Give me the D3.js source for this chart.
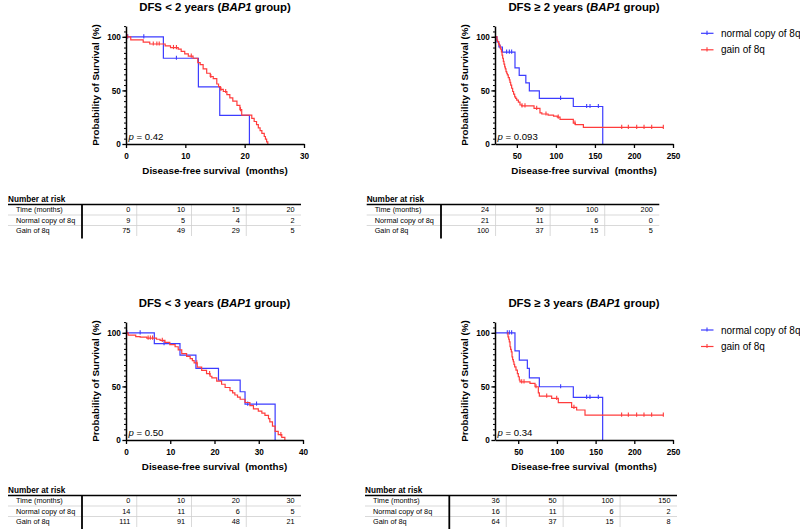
<!DOCTYPE html>
<html><head><meta charset="utf-8">
<script src="https://cdn.jsdelivr.net/npm/d3@7"></script>
<style>body{margin:0;background:#fff} svg{font-family:"Liberation Sans", Arial, sans-serif}</style>
</head><body><svg id="c" width="800" height="529"></svg>
<script>
// ---------------- DATA ----------------
const yTicks = [0, 50, 100];
const tlXTicks = [0, 10, 20, 30];
const trXTicks = [50, 100, 150, 200, 250];
const blXTicks = [0, 10, 20, 30, 40];
const brXTicks = [50, 100, 150, 200, 250];
const seriesNames = ["normal copy of 8q", "gain of 8q"];
const riskRowLabels = ["Time (months)", "Normal copy of 8q", "Gain of 8q"];
const pValues = ["0.42", "0.093", "0.50", "0.34"];

// DFS < 2 years
const tlNormal = [[0,100],[6.3,80],[12.2,53.3],[15.8,26.7],[20.8,0]];
const tlNormalCens = [0.3, 3.0, 8.5];
const tlGain = [[0,100],[0.8,97.2],[2.9,95],[4.0,93.3],[6.6,91.5],[7.5,90],[8.8,88.5],[9.3,86.5],[9.9,84],[10.5,82],[11.3,80],[12.1,76],[12.5,74],[13.0,70],[13.6,66],[14.2,63],[14.7,61],[15.3,56],[15.6,53.5],[15.9,51],[16.4,49],[17.0,46],[17.5,43],[18.0,40],[18.7,36],[19.2,32],[19.5,27],[21.2,24],[21.6,21],[22.0,18],[22.3,15],[22.6,12.5],[22.9,10],[23.3,7],[23.5,4.5],[23.7,2],[23.9,0]];
const tlGainCens = [0.2, 4.6, 5.2, 5.6, 8.0, 8.5, 11.0, 14.3, 16.0, 16.8, 19.3];
const tlRiskTimes = [0, 10, 15, 20];
const tlRiskNormal = [9, 5, 4, 2];
const tlRiskGain = [75, 49, 29, 5];

// DFS >= 2 years
const trNormal = [[22,100],[24.5,95.2],[27,90.5],[31.5,85.7],[47.6,71],[53,64],[61.5,57],[66,49.5],[78.8,42.5],[122.3,35],[160,0]];
const trNormalCens = [28.5, 36.9, 40.4, 43.3, 106, 139.4, 143.7, 154.4];
const trGain = [[22,100],[24.5,97],[25.4,95.5],[26.5,93.5],[27.6,92],[28.5,90],[29.3,88.5],[30.2,86],[31,83],[31.8,80],[32.7,77],[33.5,74.5],[34.4,72],[35.2,70],[36.1,67.6],[37,66],[37.8,64.5],[39,62],[40.4,59.8],[41.2,57.5],[42.1,55],[43.3,52],[44.6,49],[45.8,46.5],[47.2,44],[48.5,42.5],[49.8,41],[51.9,39],[54,36.4],[56.2,35.5],[72,33.3],[79.6,29],[82,28],[90,27],[97,26],[101.8,25],[105.3,23],[122.3,19.5],[125,18],[135.2,15.6],[237.6,15.6]];
const trGainCens = [56.6, 60.4, 75.4, 87.3, 103, 124.4, 184.3, 192.8, 203.5, 212.9, 222.7, 237.6];
const trRiskTimes = [24, 50, 100, 200];
const trRiskNormal = [21, 11, 6, 0];
const trRiskGain = [100, 37, 15, 5];

// DFS < 3 years
const blNormal = [[0,100],[6.4,90],[12.2,79.2],[15.8,66.8],[20.9,55.9],[25.8,45],[26.9,33.5],[33.7,0]];
const blNormalCens = [0.2, 3.2, 8.6, 27.5, 29.5];
const blGain = [[0,100],[0.5,97.8],[2.2,96.5],[3.2,96],[4.7,95],[6.9,94],[7.7,93],[8.8,91],[9.9,89],[11.1,87],[11.8,84],[12.6,80.5],[13.7,78],[14.5,76],[15.0,74],[15.4,72],[16.1,68],[17.1,65],[18.2,62],[19.0,59.5],[19.4,58],[20.5,55],[21.6,52],[22.4,49],[23.5,46],[24.1,44],[24.6,42],[25.2,40],[25.8,38],[26.9,35],[28.0,32],[28.8,29],[29.9,27],[30.7,25],[31.4,23],[32.2,20],[32.5,17],[33.1,13],[33.7,8],[34.4,5],[35.2,2.5],[35.9,0]];
const blGainCens = [5.0, 5.5, 6.0, 8.2, 16.0, 18.9, 35.0];
const blRiskTimes = [0, 10, 20, 30];
const blRiskNormal = [14, 11, 6, 5];
const blRiskGain = [111, 91, 48, 21];

// DFS >= 3 years
const brNormal = [[20,100],[45.8,83.2],[51.4,74.5],[61.8,66.8],[64.4,58],[77.3,49.7],[121.2,39.8],[159.1,0]];
const brNormalCens = [35.9, 38.5, 41.5, 104.8, 138.4, 142.7, 153.5];
const brGain = [[36,100],[36.8,96.3],[37.7,94],[38.5,91.6],[39.4,87],[40.2,84.5],[41.1,82.3],[42,77.6],[42.8,75],[43.7,73],[44.5,70.5],[45.4,68.3],[47.1,65.2],[48.9,62],[50.1,59],[51.4,56],[52.3,54.3],[65.2,52.8],[71.7,49.7],[76,44],[77.3,41],[93.2,38.8],[101.8,34.8],[119,30.4],[125.5,28],[136.3,23.3],[237.5,23.3]];
const brGainCens = [54.5, 57.5, 73, 86.8, 99.7, 122, 183.6, 192.3, 203, 212.5, 222.4, 237.5];
const brRiskTimes = [36, 50, 100, 150];
const brRiskNormal = [16, 11, 6, 2];
const brRiskGain = [64, 37, 15, 8];

// ---------------- DRAW ----------------
const svg = d3.select("#c");
const BLUE = "#3c3cff", RED = "#ff3c3c";

function survAt(series, t) {
  let v = series[0][1];
  for (const d of series) { if (d[0] <= t) v = d[1]; }
  return v;
}

function panel(cfg) {
  const x = d3.scaleLinear().domain(cfg.xDomain).range([cfg.x0, cfg.x1]);
  const y = d3.scaleLinear().domain([0, 110]).range([cfg.yb, cfg.yb - 117.9]);
  const g = svg.append("g");

  // title
  const t = g.append("text").attr("x", (cfg.x0 + cfg.x1) / 2).attr("y", cfg.titleY)
    .attr("text-anchor", "middle").attr("font-weight", "bold").attr("font-size", 11.4);
  t.append("tspan").text(cfg.title);
  t.append("tspan").attr("font-style", "italic").text("BAP1");
  t.append("tspan").text(" group)");

  // curves
  const line = d3.line().x(d => x(d[0])).y(d => y(d[1])).curve(d3.curveStepAfter);
  const curves = [[cfg.normal, cfg.normalCens, BLUE], [cfg.gain, cfg.gainCens, RED]];
  curves.forEach(([s, cens, col]) => {
    g.append("path").datum(s).attr("d", line).attr("fill", "none")
      .attr("stroke", col).attr("stroke-width", 1.2);
    g.selectAll(null).data(cens).enter().append("line")
      .attr("x1", d => x(d)).attr("x2", d => x(d))
      .attr("y1", d => y(survAt(s, d)) - 2.6).attr("y2", d => y(survAt(s, d)) + 1.6)
      .attr("stroke", col).attr("stroke-width", 1.1);
  });

  // y minor ticks
  g.append("g").attr("transform", `translate(${cfg.x0},0)`)
    .call(d3.axisLeft(y).tickValues(d3.range(0, 111, 5)).tickSize(2).tickSizeOuter(0).tickFormat(""))
    .call(a => a.select(".domain").remove())
    .selectAll("line").attr("stroke-width", 1);
  // y axis
  const gy = g.append("g").attr("transform", `translate(${cfg.x0},0)`)
    .call(d3.axisLeft(y).tickValues(yTicks).tickSize(3.6).tickPadding(1.5).tickSizeOuter(0));
  gy.select(".domain").attr("stroke-width", 1.5);
  gy.selectAll(".tick line").attr("stroke-width", 1.3);
  gy.selectAll("text").attr("font-size", 8.2).attr("font-weight", "bold").attr("font-family", null);
  // x axis
  const gx = g.append("g").attr("transform", `translate(0,${cfg.yb})`)
    .call(d3.axisBottom(x).tickValues(cfg.xTicks).tickSize(4).tickPadding(5).tickSizeOuter(0));
  gx.select(".domain").attr("stroke-width", 1.5);
  gx.selectAll(".tick line").attr("stroke-width", 1.3);
  gx.selectAll("text").attr("font-size", 8.2).attr("font-weight", "bold").attr("font-family", null);

  // axis titles
  g.append("text").attr("transform", `translate(${cfg.x0 - 27.5},${(y(0) + y(110)) / 2}) rotate(-90)`)
    .attr("text-anchor", "middle").attr("font-weight", "bold").attr("font-size", 9.8)
    .text("Probability of Survival (%)");
  g.append("text").attr("x", (cfg.x0 + cfg.x1) / 2).attr("y", cfg.yb + 29.5)
    .attr("text-anchor", "middle").attr("font-weight", "bold").attr("font-size", 9.8)
    .style("white-space", "pre").text("Disease-free survival  (months)");

  // p value
  const p = g.append("text").attr("x", cfg.x0 + 2.5).attr("y", y(0) - 4).attr("font-size", 9.6);
  p.append("tspan").attr("font-style", "italic").text("p");
  p.append("tspan").text(" = " + cfg.p);

  // legend
  if (cfg.legendY !== undefined) {
    [BLUE, RED].forEach((col, i) => {
      const ly = cfg.legendY + i * 16.5;
      g.append("line").attr("x1", 701).attr("x2", 713.5).attr("y1", ly).attr("y2", ly)
        .attr("stroke", col).attr("stroke-width", 1.2);
      g.append("line").attr("x1", 707).attr("x2", 707).attr("y1", ly - 2.6).attr("y2", ly + 1.6)
        .attr("stroke", col).attr("stroke-width", 1.1);
      g.append("text").attr("x", 721).attr("y", ly + 3.5).attr("font-size", 10).text(seriesNames[i]);
    });
  }
}

function riskTable(cfg) {
  const g = svg.append("g");
  const rowH = 10.5;
  const colW = (cfg.right - cfg.vline) / 4;
  g.append("text").attr("x", cfg.left).attr("y", cfg.top - 2.6)
    .attr("font-weight", "bold").attr("font-size", 8.2).text("Number at risk");
  // column separators
  [1, 2, 3].forEach(k => {
    g.append("line").attr("x1", cfg.vline + colW * k).attr("x2", cfg.vline + colW * k)
      .attr("y1", cfg.top).attr("y2", cfg.top + rowH * 3)
      .attr("stroke", "#d9d9d9").attr("stroke-width", 1);
  });
  // row separators
  [1, 2].forEach(k => {
    g.append("line").attr("x1", cfg.left).attr("x2", cfg.right)
      .attr("y1", cfg.top + rowH * k).attr("y2", cfg.top + rowH * k)
      .attr("stroke", "#cfcfcf").attr("stroke-width", 0.8);
  });
  g.append("line").attr("x1", cfg.left).attr("x2", cfg.right).attr("y1", cfg.top).attr("y2", cfg.top)
    .attr("stroke", "#000").attr("stroke-width", 1.5);
  g.append("line").attr("x1", cfg.vline).attr("x2", cfg.vline).attr("y1", cfg.top).attr("y2", cfg.top + rowH * 3 + 2.5)
    .attr("stroke", "#000").attr("stroke-width", 1.8);
  const rows = [cfg.times, cfg.normal, cfg.gain];
  rows.forEach((vals, r) => {
    const by = cfg.top + rowH * r + 7.8;
    g.append("text").attr("x", cfg.left + 8).attr("y", by).attr("font-size", 7.3).text(riskRowLabels[r]);
    vals.forEach((v, k) => {
      g.append("text").attr("x", cfg.vline + colW * (k + 1) - 6.5).attr("y", by)
        .attr("text-anchor", "end").attr("font-size", 7.3).text(v);
    });
  });
}

panel({title: "DFS < 2 years (", titleY: 11.3, xDomain: [0, 30], xTicks: tlXTicks, x0: 126, x1: 304, yb: 144,
  normal: tlNormal, normalCens: tlNormalCens, gain: tlGain, gainCens: tlGainCens, p: pValues[0]});
panel({title: "DFS \u2265 2 years (", titleY: 11.3, xDomain: [22, 250], xTicks: trXTicks, x0: 495, x1: 673, yb: 144,
  normal: trNormal, normalCens: trNormalCens, gain: trGain, gainCens: trGainCens, p: pValues[1], legendY: 33.3});
panel({title: "DFS < 3 years (", titleY: 306.5, xDomain: [0, 40], xTicks: blXTicks, x0: 126, x1: 303, yb: 440,
  normal: blNormal, normalCens: blNormalCens, gain: blGain, gainCens: blGainCens, p: pValues[2]});
panel({title: "DFS \u2265 3 years (", titleY: 306.5, xDomain: [20, 250], xTicks: brXTicks, x0: 495, x1: 673, yb: 440,
  normal: brNormal, normalCens: brNormalCens, gain: brGain, gainCens: brGainCens, p: pValues[3], legendY: 330});

riskTable({left: 8, right: 301, vline: 82, top: 204.5, times: tlRiskTimes, normal: tlRiskNormal, gain: tlRiskGain});
riskTable({left: 366.7, right: 659.3, vline: 441, top: 204.5, times: trRiskTimes, normal: trRiskNormal, gain: trRiskGain});
riskTable({left: 8, right: 301, vline: 82, top: 495.5, times: blRiskTimes, normal: blRiskNormal, gain: blRiskGain});
riskTable({left: 365, right: 677, vline: 449.3, top: 495.5, times: brRiskTimes, normal: brRiskNormal, gain: brRiskGain});
</script></body></html>
